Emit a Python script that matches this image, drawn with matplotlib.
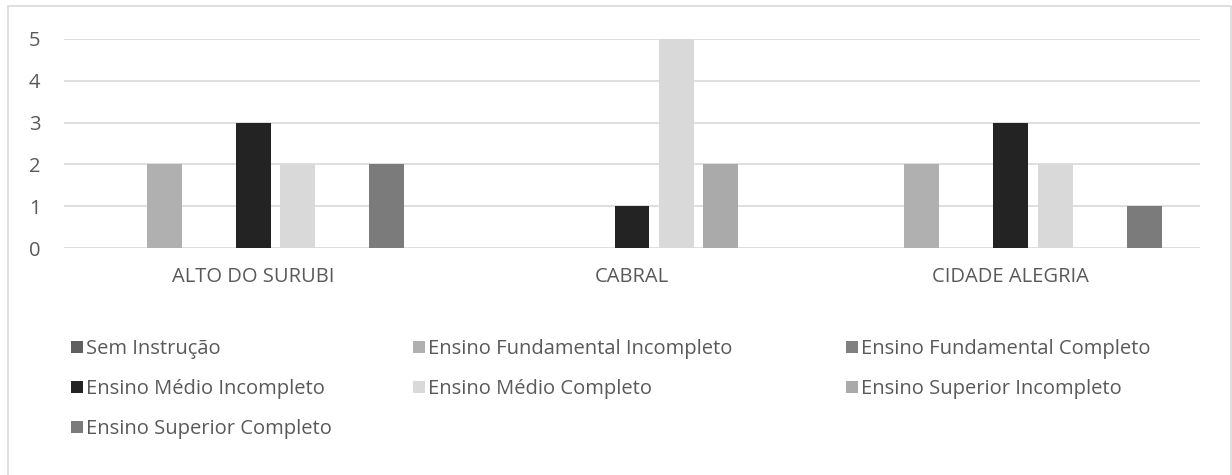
import matplotlib
matplotlib.use("Agg")
import matplotlib.pyplot as plt
from matplotlib.patches import Rectangle
import numpy as np

categories = ["ALTO DO SURUBI", "CABRAL", "CIDADE ALEGRIA"]
series_names = [
    "Sem Instrução",
    "Ensino Fundamental Incompleto",
    "Ensino Fundamental Completo",
    "Ensino Médio Incompleto",
    "Ensino Médio Completo",
    "Ensino Superior Incompleto",
    "Ensino Superior Completo",
]
sem_instrucao = [0, 0, 0]
fund_incompleto = [2, 0, 2]
fund_completo = [0, 0, 0]
medio_incompleto = [3, 1, 3]
medio_completo = [2, 5, 2]
sup_incompleto = [0, 2, 0]
sup_completo = [2, 0, 1]
series_values = [sem_instrucao, fund_incompleto, fund_completo, medio_incompleto,
                 medio_completo, sup_incompleto, sup_completo]
colors = ["#5f5f5f", "#b0b0b0", "#808080", "#232323", "#d9d9d9", "#aaaaaa", "#7b7b7b"]
yticks = [0, 1, 2, 3, 4, 5]

plt.rcParams["font.family"] = ["Open Sans", "DejaVu Sans"]
W, H = 1232, 475
fig = plt.figure(figsize=(W / 100, H / 100), dpi=100)

def fx(px):
    return px / W

def fy(py):
    return 1 - py / H

FS = 14.5
ax = fig.add_axes([fx(64), fy(248), fx(1200) - fx(64), fy(39) - fy(248)])

x = np.arange(len(categories))
step = 0.1175
width = 0.0924
containers = []
for i, (name, vals, c) in enumerate(zip(series_names, series_values, colors)):
    bc = ax.bar(x + (i - 3) * step, vals, width, color=c, label=name, zorder=3)
    containers.append(bc)

ax.set_xlim(-0.5, len(categories) - 0.5)
ax.set_ylim(0, 5)
ax.set_yticks(yticks)
ax.set_yticklabels([str(v) for v in yticks])
ax.set_xticks(x)
ax.set_xticklabels(categories)
ax.yaxis.grid(True, color="#d9d9d9", linewidth=1.2, zorder=0)
ax.set_axisbelow(True)
for s in ax.spines.values():
    s.set_visible(False)
ax.tick_params(axis="both", length=0, colors="#595959", labelsize=FS)
ax.tick_params(axis="y", pad=17)
ax.tick_params(axis="x", pad=14)

# outer chart border
fig.patches.append(Rectangle((fx(7.5), fy(478)), fx(1231) - fx(7.5), fy(5.5) - fy(478),
                             transform=fig.transFigure, fill=False,
                             edgecolor="#d9d9d9", linewidth=1.2))

# legend entries placed individually
col_x = [71, 413, 846]
row_y = [349, 389, 429]
for i, (bc, name) in enumerate(zip(containers, series_names)):
    r, c = divmod(i, 3)
    leg = fig.legend([bc], [name], loc="center left",
                     bbox_to_anchor=(fx(col_x[c]), fy(row_y[r])),
                     frameon=False, fontsize=FS, handlelength=0.6, handleheight=0.6,
                     handletextpad=0.15, borderpad=0, borderaxespad=0)
    for t in leg.get_texts():
        t.set_color("#595959")

fig.savefig("out.png", dpi=100)
